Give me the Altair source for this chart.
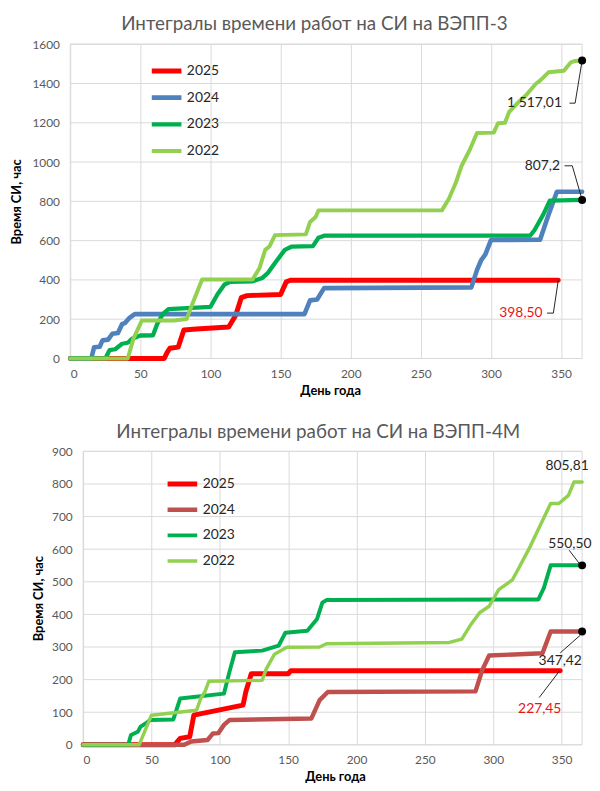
import altair as alt
import pandas as pd

YEARS = ["2025", "2024", "2023", "2022"]

# ---------------- ВЭПП-3 ----------------
v3_2025_day = [0, 67, 69, 71, 77, 81, 90, 113, 118, 122, 126, 150, 154, 157, 348]
v3_2025_val = [0, 0, 30, 52, 58, 145, 150, 160, 220, 310, 320, 326, 390, 398.5, 398.5]
v3_2024_day = [0, 15, 17, 21, 23, 27, 30, 34, 37, 39, 42, 46, 167, 171, 176, 181, 286, 290, 293, 296, 300, 335, 341, 347, 365]
v3_2024_val = [0, 0, 57, 60, 92, 96, 126, 130, 176, 180, 205, 226, 226, 296, 300, 358, 362, 450, 500, 530, 603, 605, 730, 849, 849]
v3_2023_day = [0, 25, 28, 32, 37, 41, 44, 50, 59, 62, 66, 70, 100, 105, 110, 114, 130, 137, 141, 146, 153, 158, 173, 177, 181, 328, 331, 337, 342, 365]
v3_2023_val = [0, 0, 42, 47, 75, 80, 100, 117, 118, 176, 226, 251, 263, 327, 377, 390, 393, 410, 436, 486, 553, 570, 572, 615, 625, 626, 653, 729, 804, 807.2]
v3_2022_day = [0, 41, 45, 51, 74, 83, 87, 94, 130, 135, 139, 142, 146, 168, 171, 175, 177, 265, 270, 275, 279, 285, 290, 302, 305, 310, 313, 321, 325, 332, 335, 341, 352, 357, 360, 365]
v3_2022_val = [0, 0, 100, 193, 193, 201, 276, 402, 402, 461, 553, 570, 628, 632, 695, 720, 754, 754, 813, 896, 980, 1064, 1148, 1150, 1198, 1200, 1256, 1315, 1340, 1399, 1415, 1457, 1465, 1508, 1515, 1517.01]

# ---------------- ВЭПП-4М ----------------
v4_2025_day = [0, 67, 71, 78, 81, 117, 119, 123, 150, 152, 349]
v4_2025_val = [0, 0, 20, 25, 91, 122, 162, 218, 218, 227.45, 227.45]
v4_2024_day = [0, 74, 79, 91, 95, 99, 103, 107, 167, 173, 179, 287, 292, 297, 336, 342, 365]
v4_2024_val = [0, 0, 10, 15, 35, 36, 61, 76, 81, 137, 162, 164, 230, 274, 281, 347.42, 347.42]
v4_2023_day = [0, 33, 35, 40, 42, 46, 49, 66, 71, 103, 107, 111, 131, 143, 148, 164, 171, 175, 178, 333, 337, 342, 365]
v4_2023_val = [0, 0, 30, 40, 56, 66, 76, 78, 142, 157, 223, 284, 289, 304, 344, 350, 385, 436, 444, 446, 481, 550.5, 550.5]
v4_2022_day = [0, 41, 50, 83, 86, 89, 92, 131, 134, 140, 149, 173, 178, 268, 277, 283, 290, 297, 304, 314, 318, 327, 335, 342, 348, 355, 359, 365]
v4_2022_val = [0, 0, 91, 106, 142, 162, 195, 198, 233, 278, 299, 300, 310, 314, 324, 365, 405, 425, 476, 506, 537, 608, 679, 740, 740, 765, 805.81, 805.81]

# annotations: label text, anchor day, anchor value
v3_labels = ["1 517,01", "807,2", "398,50"]
v3_label_day = [350.6, 349.2, 336.8]
v3_label_val = [1300, 981, 231]
v3_label_red = [False, False, True]
v3_leader_id = [0, 0, 0, 1, 1, 1, 2, 2, 2]
v3_leader_day = [356, 360, 365, 352.5, 358, 365, 340, 344.5, 348]
v3_leader_val = [1300, 1300, 1517.01, 981, 981, 807.2, 231, 231, 398.5]
v3_dot_day = [365, 365]
v3_dot_val = [1517.01, 807.2]

v4_labels = ["805,81", "550,50", "347,42", "227,45"]
v4_label_day = [354, 356, 349, 334]
v4_label_val = [855, 615, 258, 109]
v4_label_red = [False, False, False, True]
v4_leader_id = [0, 0, 1, 1, 2, 2]
v4_leader_day = [355.5, 363, 349, 363.6, 333.6, 348.6]
v4_leader_val = [597, 556, 282, 336, 145, 227.45]
v4_dot_day = [365, 365]
v4_dot_val = [550.5, 347.42]

FONT = "Lato"
GRID = "#D9D9D9"
TXT = "#595959"


def long_df(days, vals):
    rows = []
    for yr, ds, vs in zip(YEARS, days, vals):
        for i, (d, v) in enumerate(zip(ds, vs)):
            rows.append({"year": yr, "day": d, "value": v, "seq": i})
    return pd.DataFrame(rows)


def panel(df, colors, widths, ymax, ystep, width, height, x0, title, title_dx,
          lx, ly, rowpad, labels, ldays, lvals, lred, lid, lddays, ldvals,
          ddays, dvals, xtitle_x, ytitle_pad, label_align):
    xs = alt.Scale(domain=[0, 365], nice=False, range=[x0, width])
    ys = alt.Scale(domain=[0, ymax], nice=False)
    xaxis = alt.Axis(values=list(range(0, 351, 50)), title="День года", grid=True,
                     gridColor=GRID, domain=False, ticks=False, tickSize=0,
                     labelPadding=10, titlePadding=5, labelFontSize=12,
                     labelColor=TXT, labelFont=FONT, titleFont=FONT,
                     titleFontSize=13, titleFontWeight="bold", titleColor="#000000",
                     titleX=xtitle_x, format="d")
    yaxis = alt.Axis(values=list(range(0, ymax + 1, ystep)), title="Время СИ, час",
                     grid=False, domain=False, ticks=False, tickSize=0,
                     labelPadding=11, titlePadding=ytitle_pad, labelFontSize=12,
                     labelColor=TXT, labelFont=FONT, titleFont=FONT,
                     titleFontSize=13, titleFontWeight="bold", titleColor="#000000",
                     offset=-x0, format="d", labelOverlap=False)
    legend = alt.Legend(title=None, orient="none", legendX=lx, legendY=ly,
                        symbolType="stroke", symbolSize=900, labelFontSize=14,
                        labelColor="#262626", labelFont=FONT, clipHeight=20,
                        rowPadding=rowpad, labelOffset=3, padding=0)

    X = lambda f: alt.X(f, scale=xs, axis=xaxis)
    Y = lambda f: alt.Y(f, scale=ys, axis=yaxis)

    gdf = pd.DataFrame({"g": list(range(0, ymax + 1, ystep))})
    grid = alt.Chart(gdf).mark_rule(color=GRID, strokeWidth=1).encode(
        y=Y("g:Q"), x=alt.value(x0), x2=alt.value(width))
    frame = alt.Chart(pd.DataFrame({"a": [0]})).mark_rect(
        fillOpacity=0, stroke=GRID, strokeWidth=1).encode(
        x=alt.value(x0), x2=alt.value(width), y=alt.value(0), y2=alt.value(height))

    lines = alt.Chart(df).mark_line(strokeCap="round", strokeJoin="round").encode(
        x=X("day:Q"),
        y=Y("value:Q"),
        color=alt.Color("year:N", scale=alt.Scale(domain=YEARS, range=colors), legend=legend),
        strokeWidth=alt.StrokeWidth("year:N", scale=alt.Scale(domain=YEARS, range=widths), legend=legend),
        order="seq:Q",
    )

    ldf = pd.DataFrame({"t": labels, "day": ldays, "value": lvals, "red": lred})
    txt_black = alt.Chart(ldf).transform_filter("!datum.red").mark_text(
        font=FONT, fontSize=14, color="#262626", align=label_align, baseline="middle").encode(
        x=X("day:Q"), y=Y("value:Q"), text="t:N")
    txt_red = alt.Chart(ldf).transform_filter("datum.red").mark_text(
        font=FONT, fontSize=14, color="#E8141B", align=label_align, baseline="middle").encode(
        x=X("day:Q"), y=Y("value:Q"), text="t:N")

    lead = pd.DataFrame({"id": lid, "day": lddays, "value": ldvals,
                         "s": list(range(len(lid)))})
    leaders = alt.Chart(lead).mark_line(color="#262626", strokeWidth=1).encode(
        x=X("day:Q"), y=Y("value:Q"), detail="id:N", order="s:Q")

    dots = alt.Chart(pd.DataFrame({"day": ddays, "value": dvals})).mark_circle(
        color="black", size=64, opacity=1).encode(x=X("day:Q"), y=Y("value:Q"))

    return alt.layer(grid, frame, lines, leaders, dots, txt_black, txt_red).properties(
        width=width, height=height,
        title=alt.Title(title, font=FONT, fontSize=19, fontWeight="normal",
                        color=TXT, anchor="middle", frame="group", dx=title_dx,
                        offset=4),
    )


df3 = long_df([v3_2025_day, v3_2024_day, v3_2023_day, v3_2022_day],
              [v3_2025_val, v3_2024_val, v3_2023_val, v3_2022_val])
df4 = long_df([v4_2025_day, v4_2024_day, v4_2023_day, v4_2022_day],
              [v4_2025_val, v4_2024_val, v4_2023_val, v4_2022_val])

top = panel(df3, ["#FF0000", "#4F81BD", "#00B050", "#92D050"], [5, 4, 3.2, 3],
            1600, 200, 518, 318, 0, "Интегралы времени работ на СИ на ВЭПП-3", -12,
            80, 17, 7, v3_labels, v3_label_day, v3_label_val, v3_label_red,
            v3_leader_id, v3_leader_day, v3_leader_val, v3_dot_day, v3_dot_val,
            263, 8, "right")
bottom = panel(df4, ["#FF0000", "#C0504D", "#00B050", "#92D050"], [5, 3.5, 4, 3],
               900, 100, 518, 297, 13, "Интегралы времени работ на СИ на ВЭПП-4М", -8,
               96, 23, 6, v4_labels, v4_label_day, v4_label_val, v4_label_red,
               v4_leader_id, v4_leader_day, v4_leader_val, v4_dot_day, v4_dot_val,
               268, 6, "center")

chart = alt.vconcat(top, bottom, spacing=26).resolve_scale(
    color="independent", strokeWidth="independent"
).resolve_legend(
    color="independent", strokeWidth="independent"
).properties(
    padding={"left": 3, "top": 3, "right": 0, "bottom": 0}
).configure_view(stroke=None)

chart.save("out.html", embed_options={"renderer": "svg", "actions": False})
